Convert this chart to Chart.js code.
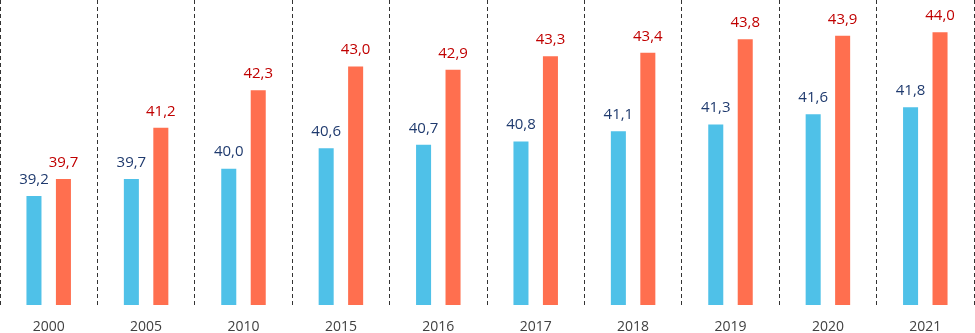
<!DOCTYPE html>
<html>
<head>
<meta charset="utf-8">
<script src="https://cdn.jsdelivr.net/npm/chart.js@4"></script>
<style>
  html, body { margin: 0; padding: 0; background: #fff; }
  #wrap { width: 975px; height: 333px; }
</style>
</head>
<body>
<div id="wrap"><canvas id="myChart"></canvas></div>
<script>
const years = ['2000', '2005', '2010', '2015', '2016', '2017', '2018', '2019', '2020', '2021'];
const blueValues = [39.2, 39.7, 40.0, 40.6, 40.7, 40.8, 41.1, 41.3, 41.6, 41.8];
const orangeValues = [39.7, 41.2, 42.3, 43.0, 42.9, 43.3, 43.4, 43.8, 43.9, 44.0];
const labelColors = ['#1f3a6e', '#c00000'];

// value labels above each bar, comma decimals
const barLabels = {
  id: 'barLabels',
  afterDatasetsDraw(chart) {
    const c = chart.ctx;
    c.save();
    c.font = '15px "Open Sans"';
    c.textAlign = 'center';
    c.textBaseline = 'bottom';
    chart.data.datasets.forEach((ds, i) => {
      chart.getDatasetMeta(i).data.forEach((bar, j) => {
        c.fillStyle = labelColors[i];
        c.fillText(ds.data[j].toFixed(1).replace('.', ','), bar.x, bar.y - 9);
      });
    });
    c.restore();
  }
};

new Chart(document.getElementById('myChart'), {
  type: 'bar',
  data: {
    labels: years,
    datasets: [{
      data: blueValues,
      backgroundColor: '#4fc1e8',
      categoryPercentage: 0.605,
      barPercentage: 0.51
    }, {
      data: orangeValues,
      backgroundColor: '#ff6f4f',
      categoryPercentage: 0.605,
      barPercentage: 0.51
    }]
  },
  options: {
    responsive: true,
    maintainAspectRatio: false,
    animation: false,
    layout: { padding: { left: 0, right: 1, top: 0, bottom: 0 } },
    plugins: {
      legend: { display: false },
      tooltip: { enabled: false }
    },
    scales: {
      x: {
        offset: true,
        grid: {
          offset: true,
          color: '#333',
          lineWidth: 1,
          drawTicks: false
        },
        border: { display: false, dash: [4, 3] },
        ticks: {
          color: '#404040',
          font: { family: '"Open Sans"', size: 14 },
          padding: 14
        },
        afterFit(axis) { axis.height = 28; }
      },
      y: {
        display: false,
        min: 36,
        max: 44.95
      }
    }
  },
  plugins: [barLabels]
});
</script>
</body>
</html>
